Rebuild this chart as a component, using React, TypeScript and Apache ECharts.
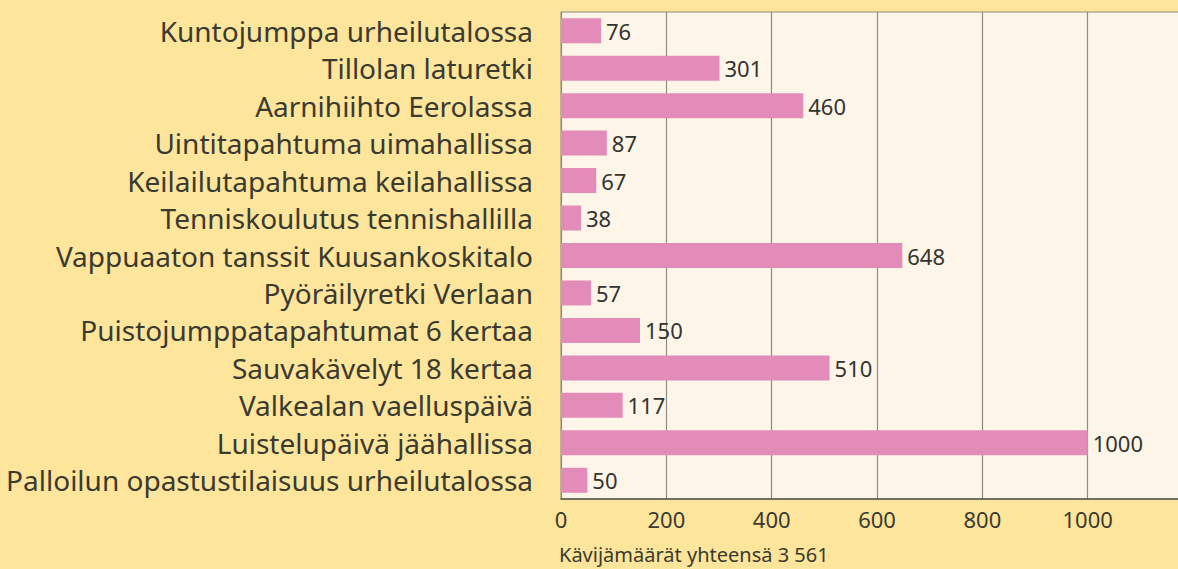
import React, { useEffect, useRef } from "react";
import * as echarts from "echarts";

const categories = [
  "Kuntojumppa urheilutalossa",
  "Tillolan laturetki",
  "Aarnihiihto Eerolassa",
  "Uintitapahtuma uimahallissa",
  "Keilailutapahtuma keilahallissa",
  "Tenniskoulutus tennishallilla",
  "Vappuaaton tanssit Kuusankoskitalo",
  "Pyöräilyretki Verlaan",
  "Puistojumppatapahtumat 6 kertaa",
  "Sauvakävelyt 18 kertaa",
  "Valkealan vaelluspäivä",
  "Luistelupäivä jäähallissa",
  "Palloilun opastustilaisuus urheilutalossa",
];
const visitors = [76, 301, 460, 87, 67, 38, 648, 57, 150, 510, 117, 1000, 50];
const totalLabel = "Kävijämäärät yhteensä 3 561";

export default function App() {
  const ref = useRef<HTMLDivElement>(null);
  useEffect(() => {
    const chart = echarts.init(ref.current!, null, { renderer: "svg" });
    const textColor = "#3a3a30";
    chart.setOption({
      animation: false,
      backgroundColor: "#fde59c",
      grid: {
        left: 561,
        right: -15,
        top: 12,
        bottom: 70,
        containLabel: false,
        outerBoundsMode: "none",
        show: true,
        backgroundColor: "#fdf5e8",
        borderColor: "#8e8c82",
        borderWidth: 1,
      },
      xAxis: {
        type: "value",
        min: 0,
        max: 1200,
        interval: 200,
        axisLine: { show: true, lineStyle: { color: "#55554a", width: 1.5 } },
        axisTick: { show: false },
        splitLine: { show: true, lineStyle: { color: "#8e8c82", width: 1.2 } },
        axisLabel: {
          fontFamily: "Noto Sans",
          fontSize: 22,
          color: textColor,
          margin: 9,
          showMaxLabel: false,
          formatter: (v: number) => String(v),
        },
      },
      yAxis: {
        type: "category",
        data: categories,
        inverse: true,
        axisLine: { show: true, lineStyle: { color: "#8e8c82" } },
        axisTick: { show: false },
        axisLabel: {
          fontFamily: "Noto Sans",
          fontSize: 28,
          color: textColor,
          margin: 28,
        },
      },
      series: [
        {
          type: "bar",
          data: visitors,
          barWidth: 25,
          itemStyle: { color: "#e38bb9" },
          label: {
            show: true,
            position: "right",
            distance: 5,
            fontFamily: "Noto Sans",
            fontSize: 22,
            color: "#333330",
          },
        },
      ],
      graphic: [
        {
          type: "text",
          left: 559,
          top: 544,
          style: {
            text: totalLabel,
            fontFamily: "Noto Sans",
            fontSize: 20,
            fill: textColor,
          },
        },
      ],
    });
    return () => chart.dispose();
  }, []);
  return (
    <div
      ref={ref}
      style={{ position: "fixed", left: 0, top: 0, width: 1178, height: 569 }}
    />
  );
}
